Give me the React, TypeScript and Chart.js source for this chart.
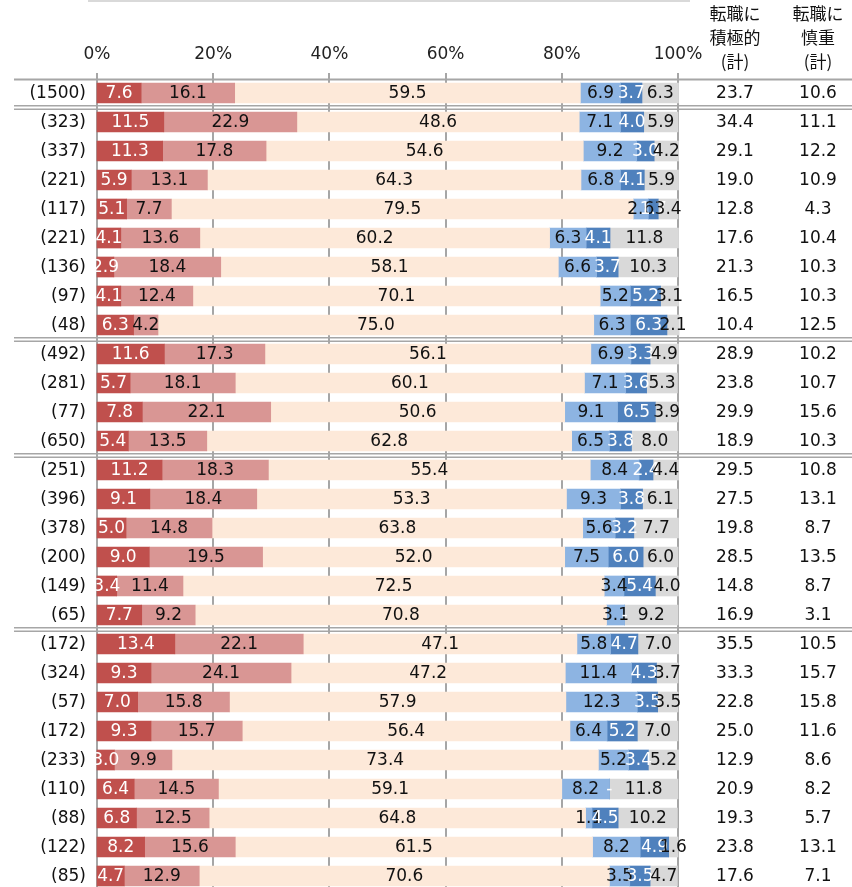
import React, { useEffect, useRef } from "react";
import { Chart, registerables } from "chart.js";

Chart.register(...registerables);

const sampleSizes = [1500, 323, 337, 221, 117, 221, 136, 97, 48, 492, 281, 77, 650, 251, 396, 378, 200, 149, 65, 172, 324, 57, 172, 233, 110, 88, 122, 85];

const veryActive = [7.6, 11.5, 11.3, 5.9, 5.1, 4.1, 2.9, 4.1, 6.3, 11.6, 5.7, 7.8, 5.4, 11.2, 9.1, 5.0, 9.0, 3.4, 7.7, 13.4, 9.3, 7.0, 9.3, 3.0, 6.4, 6.8, 8.2, 4.7];
const someActive = [16.1, 22.9, 17.8, 13.1, 7.7, 13.6, 18.4, 12.4, 4.2, 17.3, 18.1, 22.1, 13.5, 18.3, 18.4, 14.8, 19.5, 11.4, 9.2, 22.1, 24.1, 15.8, 15.7, 9.9, 14.5, 12.5, 15.6, 12.9];
const neutral = [59.5, 48.6, 54.6, 64.3, 79.5, 60.2, 58.1, 70.1, 75.0, 56.1, 60.1, 50.6, 62.8, 55.4, 53.3, 63.8, 52.0, 72.5, 70.8, 47.1, 47.2, 57.9, 56.4, 73.4, 59.1, 64.8, 61.5, 70.6];
const someCautious = [6.9, 7.1, 9.2, 6.8, 2.6, 6.3, 6.6, 5.2, 6.3, 6.9, 7.1, 9.1, 6.5, 8.4, 9.3, 5.6, 7.5, 3.4, 3.1, 5.8, 11.4, 12.3, 6.4, 5.2, 8.2, 1.1, 8.2, 3.5];
const veryCautious = [3.7, 4.0, 3.0, 4.1, 1.7, 4.1, 3.7, 5.2, 6.3, 3.3, 3.6, 6.5, 3.8, 2.4, 3.8, 3.2, 6.0, 5.4, 0, 4.7, 4.3, 3.5, 5.2, 3.4, 0, 4.5, 4.9, 3.5];
const unknown = [6.3, 5.9, 4.2, 5.9, 3.4, 11.8, 10.3, 3.1, 2.1, 4.9, 5.3, 3.9, 8.0, 4.4, 6.1, 7.7, 6.0, 4.0, 9.2, 7.0, 3.7, 3.5, 7.0, 5.2, 11.8, 10.2, 1.6, 4.7];

const activeTotal = [23.7, 34.4, 29.1, 19.0, 12.8, 17.6, 21.3, 16.5, 10.4, 28.9, 23.8, 29.9, 18.9, 29.5, 27.5, 19.8, 28.5, 14.8, 16.9, 35.5, 33.3, 22.8, 25.0, 12.9, 20.9, 19.3, 23.8, 17.6];
const cautiousTotal = [10.6, 11.1, 12.2, 10.9, 4.3, 10.4, 10.3, 10.3, 12.5, 10.2, 10.7, 15.6, 10.3, 10.8, 13.1, 8.7, 13.5, 8.7, 3.1, 10.5, 15.7, 15.8, 11.6, 8.6, 8.2, 5.7, 13.1, 7.1];

const xTicks = [0, 20, 40, 60, 80, 100];
const groupBreaksAfter = [0, 8, 12, 18];
const headerActive = ["転職に", "積極的", "(計)"];
const headerCautious = ["転職に", "慎重", "(計)"];

const seriesColors = ["#C0504D", "#D99694", "#FDE9D9", "#8DB4E2", "#4F81BD", "#D9D9D9"];
const labelColors = ["#ffffff", "#111111", "#111111", "#111111", "#ffffff", "#111111"];

const NUM_FONT = '17px "DejaVu Sans", Verdana, sans-serif';
const JP_FONT = '17px "Noto Sans CJK JP", sans-serif';
const LINE = "#a6a6a6";

const overlay = {
  id: "overlay",
  beforeDatasetsDraw(chart: any) {
    const { ctx, scales } = chart;
    const x = scales.x;
    const y = scales.y;
    const band = y.getPixelForValue(1) - y.getPixelForValue(0);
    ctx.save();
    ctx.strokeStyle = "#d9d9d9";
    ctx.lineWidth = 2;
    ctx.beginPath();
    ctx.moveTo(88, 1);
    ctx.lineTo(690, 1);
    ctx.stroke();
    ctx.strokeStyle = LINE;
    ctx.lineWidth = 2;
    xTicks.forEach((t) => {
      const px = Math.round(x.getPixelForValue(t));
      ctx.beginPath();
      ctx.moveTo(px, 73);
      ctx.lineTo(px, chart.height);
      ctx.stroke();
    });
    const topY = y.getPixelForValue(0) - band / 2 + 1;
    ctx.beginPath();
    ctx.moveTo(14, topY);
    ctx.lineTo(chart.width, topY);
    ctx.stroke();
    ctx.lineWidth = 1.5;
    groupBreaksAfter.forEach((i) => {
      const sy = (y.getPixelForValue(i) + y.getPixelForValue(i + 1)) / 2;
      [sy - 1.75, sy + 1.75].forEach((ly) => {
        ctx.beginPath();
        ctx.moveTo(14, ly);
        ctx.lineTo(chart.width, ly);
        ctx.stroke();
      });
    });
    ctx.fillStyle = "#222";
    ctx.font = NUM_FONT;
    ctx.textAlign = "center";
    ctx.textBaseline = "middle";
    xTicks.forEach((t) => {
      ctx.fillText(t + "%", x.getPixelForValue(t), 55);
    });
    ctx.font = JP_FONT;
    ctx.fillStyle = "#111";
    headerActive.forEach((s, i) => ctx.fillText(s, 735, 14 + i * 24));
    headerCautious.forEach((s, i) => ctx.fillText(s, 818, 14 + i * 24));
    ctx.restore();
  },
  afterDatasetsDraw(chart: any) {
    const { ctx, scales } = chart;
    const y = scales.y;
    ctx.save();
    ctx.font = NUM_FONT;
    ctx.textBaseline = "middle";
    ctx.textAlign = "center";
    chart.data.datasets.forEach((ds: any, di: number) => {
      const meta = chart.getDatasetMeta(di);
      ctx.fillStyle = labelColors[di];
      meta.data.forEach((el: any, i: number) => {
        const v = ds.data[i];
        const txt = v === 0 ? "-" : v.toFixed(1);
        const cx = (el.x + el.base) / 2;
        ctx.fillText(txt, cx, el.y + 1);
      });
    });
    ctx.fillStyle = "#111";
    sampleSizes.forEach((n, i) => {
      const py = y.getPixelForValue(i) + 1;
      ctx.textAlign = "right";
      ctx.fillText("(" + n + ")", 86, py);
      ctx.textAlign = "center";
      ctx.fillText(activeTotal[i].toFixed(1), 735, py);
      ctx.fillText(cautiousTotal[i].toFixed(1), 818, py);
    });
    ctx.restore();
  },
};

export default function App() {
  const ref = useRef<HTMLCanvasElement | null>(null);
  useEffect(() => {
    if (!ref.current) return;
    const series = [veryActive, someActive, neutral, someCautious, veryCautious, unknown];
    const chart = new Chart(ref.current, {
      type: "bar",
      data: {
        labels: sampleSizes.map((n) => "(" + n + ")"),
        datasets: series.map((d, i) => ({
          data: d,
          backgroundColor: seriesColors[i],
          borderWidth: 0,
          barThickness: 20,
          clip: false as any,
        })),
      },
      options: {
        indexAxis: "y",
        responsive: false,
        animation: false,
        devicePixelRatio: 1,
        layout: { padding: { left: 97, right: 174, top: 93, bottom: 11 } },
        scales: {
          x: { display: false, stacked: true, min: 0, max: 100 },
          y: { display: false, stacked: true, offset: false },
        },
        plugins: { legend: { display: false }, tooltip: { enabled: false } },
      },
      plugins: [overlay],
    } as any);
    return () => chart.destroy();
  }, []);
  return (
    <div style={{ position: "absolute", left: 0, top: 0, width: 852, height: 887, background: "#fff" }}>
      <canvas ref={ref} width={852} height={887} style={{ display: "block" }} />
    </div>
  );
}
